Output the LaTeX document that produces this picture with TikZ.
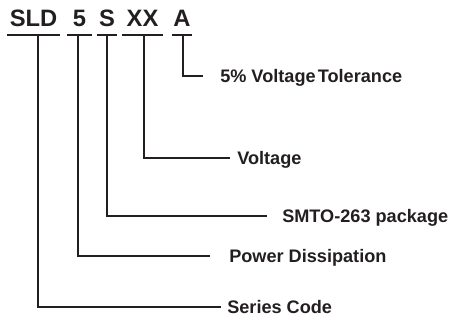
\documentclass[tikz,border=0pt]{standalone}
\usepackage{fontspec}
\setmainfont{Liberation Sans}
\definecolor{ink}{HTML}{231F20}
\begin{document}
\begin{tikzpicture}[x=0.75pt,y=-0.75pt,
  titletxt/.style={anchor=base,inner sep=0pt,text=ink,font=\fontsize{17.8}{20}\selectfont\bfseries},
  labeltxt/.style={anchor=base west,inner sep=0pt,text=ink,font=\fontsize{13.6}{16}\selectfont\bfseries},
  uline/.style={draw=ink,line width=0.8pt},
  conn/.style={draw=ink,line width=1.1pt}]
\useasboundingbox (0,0) rectangle (453,320);
% title parts
\node[titletxt] (t1) at (33.5,27) {SLD};
\node[titletxt] (t2) at (79.5,27) {5};
\node[titletxt] (t3) at (107,27) {S};
\node[titletxt] (t4) at (142.5,27) {XX};
\node[titletxt] (t5) at (182,27) {A};
% underlines
\draw[uline] (7,35) -- (60,35);
\draw[uline] (67,35) -- (92,35);
\draw[uline] (97,35) -- (117,35);
\draw[uline] (122,35) -- (163,35);
\draw[uline] (172,35) -- (192,35);
% connector start points
\coordinate (u1) at (38,35);
\coordinate (u2) at (78,35);
\coordinate (u3) at (107,35);
\coordinate (u4) at (144,35);
\coordinate (u5) at (183,35);
% connector ends
\coordinate (e1) at (221,307);
\coordinate (e2) at (210,256);
\coordinate (e3) at (267,216);
\coordinate (e4) at (230,158);
\coordinate (e5) at (203,76);
% labels
\node[labeltxt] (l5) at (220,82.5) {5\% Voltage\hspace{0.12em}Tolerance};
\node[labeltxt] (l4) at (237,164.5) {Voltage};
\node[labeltxt] (l3) at (282,222.5) {SMTO-263 package};
\node[labeltxt] (l2) at (229,262.5) {Power Dissipation};
\node[labeltxt] (l1) at (227,313.5) {Series Code};
% connectors
\draw[conn] (u1) |- (e1);
\draw[conn] (u2) |- (e2);
\draw[conn] (u3) |- (e3);
\draw[conn] (u4) |- (e4);
\draw[conn] (u5) |- (e5);
\end{tikzpicture}
\end{document}
